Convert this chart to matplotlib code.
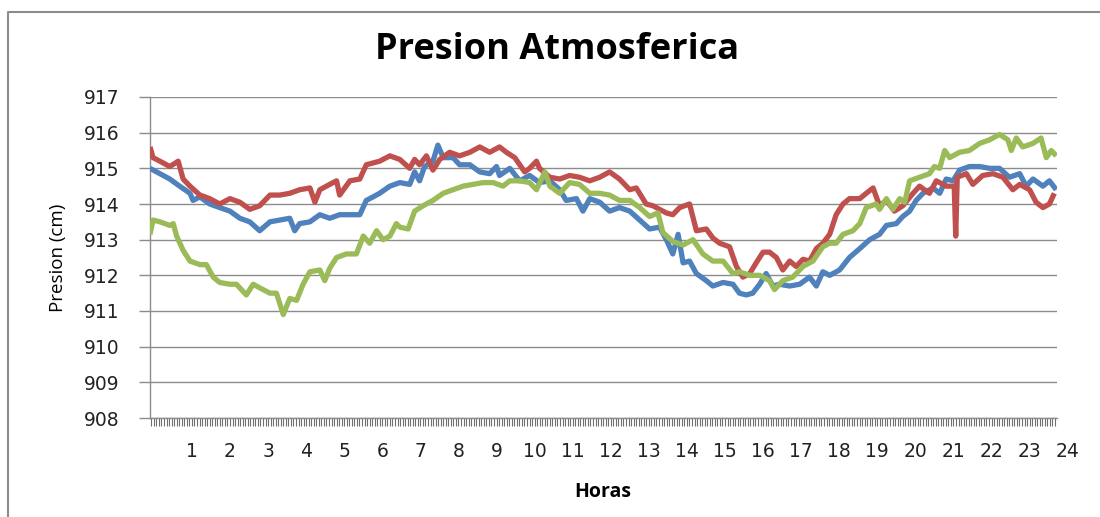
import numpy as np
import matplotlib
matplotlib.use("Agg")
import matplotlib.pyplot as plt
from matplotlib.lines import Line2D
from matplotlib.ticker import MultipleLocator
import matplotlib.transforms as mtransforms

title = "Presion Atmosferica"
y_label = "Presion (cm)"
x_label = "Horas"
hour_labels = list(range(1, 25))
y_ticks = list(range(908, 918))

blue_h = [-0.1, 0.16, 0.42, 0.68, 0.95, 1.03, 1.21, 1.47, 1.73, 2.0, 2.26, 2.52, 2.78, 3.05, 3.31,
          3.57, 3.70, 3.83, 4.10, 4.36, 4.62, 4.88, 5.15, 5.41, 5.58, 5.76, 5.93, 6.20,
          6.46, 6.72, 6.85, 6.98, 7.11, 7.33, 7.46, 7.60, 7.86, 8.03, 8.30, 8.56, 8.82, 9.00,
          9.08, 9.35, 9.61, 9.87, 10.13, 10.40, 10.66, 10.83, 11.10, 11.27, 11.45, 11.71, 11.97,
          12.23, 12.50, 12.76, 13.02,
          13.28, 13.46, 13.63, 13.77, 13.90, 14.07, 14.25, 14.51, 14.68, 14.95, 15.21, 15.38,
          15.56, 15.73, 15.91, 16.08, 16.26, 16.43, 16.70, 16.96, 17.22, 17.40, 17.57, 17.75,
          18.01, 18.27, 18.54, 18.80,
          19.06, 19.24, 19.50, 19.67, 19.85, 20.02, 20.20, 20.46, 20.64, 20.81, 20.99, 21.16,
          21.42, 21.69, 21.95, 22.21, 22.47, 22.74, 22.91, 23.09, 23.35, 23.52, 23.70]
blue_v = [915.0, 914.85, 914.7, 914.5, 914.3, 914.1, 914.2, 914.0, 913.9, 913.8, 913.6, 913.5, 913.25, 913.5, 913.55,
          913.6, 913.25, 913.45, 913.5, 913.7, 913.6, 913.7, 913.7, 913.7, 914.1, 914.2, 914.3, 914.5,
          914.6, 914.55, 914.9, 914.65, 915.05, 915.2, 915.65, 915.3, 915.3, 915.1, 915.1, 914.9, 914.85, 915.05,
          914.8, 915.0, 914.65, 914.8, 914.6, 914.65, 914.4, 914.1, 914.15, 913.8, 914.15, 914.05, 913.8,
          913.9, 913.8, 913.55, 913.3,
          913.35, 913.0, 912.6, 913.15, 912.35, 912.4, 912.05, 911.85, 911.7, 911.8, 911.75, 911.5,
          911.45, 911.5, 911.75, 912.05, 911.7, 911.75, 911.7, 911.75, 911.95, 911.7, 912.1, 912.0,
          912.15, 912.5, 912.75, 913.0,
          913.15, 913.4, 913.45, 913.65, 913.8, 914.1, 914.3, 914.45, 914.3, 914.7, 914.65, 914.95,
          915.05, 915.05, 915.0, 915.0, 914.75, 914.85, 914.5, 914.7, 914.5, 914.65, 914.4]

red_h = [-0.1, -0.02, 0.16, 0.42, 0.64, 0.77, 0.95, 1.21, 1.47, 1.73, 2.0, 2.26, 2.52, 2.78, 3.05,
         3.31, 3.57, 3.83, 4.10, 4.23, 4.36, 4.62, 4.80, 4.88, 5.15, 5.41, 5.58, 5.93, 6.20,
         6.46, 6.72, 6.85, 6.98, 7.16, 7.33, 7.51, 7.77, 8.03, 8.30, 8.56, 8.82, 9.08, 9.26, 9.48,
         9.61, 9.74, 9.87, 10.05, 10.13, 10.40, 10.66, 10.92, 11.18, 11.45, 11.71, 11.97, 12.23,
         12.50, 12.67, 12.93, 13.11,
         13.28, 13.46, 13.63, 13.81, 14.07, 14.25, 14.51, 14.68, 14.86, 15.12, 15.30, 15.47, 15.65,
         15.82, 16.00, 16.17, 16.35, 16.52, 16.70, 16.87, 17.05, 17.22, 17.40, 17.57, 17.75, 17.92,
         18.10, 18.27, 18.54, 18.71, 18.89,
         19.06, 19.24, 19.45, 19.67, 19.94, 20.11, 20.37, 20.55, 20.81, 21.02, 21.06, 21.10,
         21.34, 21.51, 21.77, 22.04, 22.30, 22.56, 22.74, 23.00, 23.17, 23.35, 23.52, 23.65]
red_v = [915.6, 915.3, 915.2, 915.05, 915.2, 914.7, 914.5, 914.25, 914.15, 914.0, 914.15, 914.05, 913.85, 913.95, 914.25,
         914.25, 914.3, 914.4, 914.45, 914.05, 914.4, 914.55, 914.65, 914.25, 914.65, 914.7, 915.1, 915.2, 915.35,
         915.25, 915.0, 915.25, 915.1, 915.35, 914.95, 915.25, 915.45, 915.35, 915.45, 915.6, 915.45, 915.6, 915.45, 915.3,
         915.1, 914.9, 915.0, 915.2, 915.0, 914.75, 914.7, 914.8, 914.75, 914.65, 914.75, 914.9, 914.7,
         914.4, 914.45, 914.0, 913.95,
         913.85, 913.75, 913.7, 913.9, 914.0, 913.25, 913.3, 913.05, 912.9, 912.8, 912.25, 911.95, 912.05,
         912.35, 912.65, 912.65, 912.5, 912.15, 912.4, 912.25, 912.45, 912.4, 912.75, 912.9, 913.15, 913.7,
         914.0, 914.15, 914.15, 914.3, 914.45,
         913.95, 914.1, 913.8, 913.95, 914.3, 914.5, 914.3, 914.65, 914.5, 914.5, 913.1, 914.75,
         914.85, 914.55, 914.8, 914.85, 914.75, 914.4, 914.55, 914.4, 914.05, 913.9, 914.0, 914.3]

green_h = [-0.1, -0.02, 0.16, 0.42, 0.51, 0.60, 0.77, 0.95, 1.21, 1.38, 1.56, 1.73, 2.0, 2.17, 2.43,
           2.61, 2.78, 3.05, 3.22, 3.40, 3.57, 3.75, 3.92, 4.10, 4.36, 4.49, 4.62, 4.80, 5.06, 5.32,
           5.50, 5.67, 5.85, 6.02, 6.20, 6.37,
           6.46, 6.68, 6.85, 7.07, 7.33, 7.60, 7.86, 8.12, 8.38, 8.65, 8.91, 9.17, 9.35, 9.61, 9.87,
           10.05, 10.27, 10.40, 10.66, 10.92, 11.18, 11.45, 11.71, 11.97, 12.23, 12.50, 12.76, 13.02,
           13.24,
           13.37, 13.63, 13.90, 14.16, 14.42, 14.68, 14.95, 15.21, 15.38, 15.65, 15.91, 16.17, 16.30,
           16.52, 16.78, 17.05, 17.31, 17.57, 17.75, 17.92, 18.10, 18.36, 18.54, 18.71, 18.97,
           19.06, 19.24, 19.41, 19.59, 19.72, 19.85, 20.11, 20.37, 20.50, 20.64, 20.77, 20.90, 21.16,
           21.42, 21.69, 21.95, 22.21, 22.43, 22.52, 22.65, 22.82, 23.09, 23.30, 23.44, 23.57, 23.70]
green_v = [913.15, 913.55, 913.5, 913.4, 913.45, 913.1, 912.7, 912.4, 912.3, 912.3, 911.95, 911.8, 911.75, 911.75, 911.45,
           911.75, 911.65, 911.5, 911.5, 910.9, 911.35, 911.3, 911.75, 912.1, 912.15, 911.85, 912.2, 912.5, 912.6, 912.6,
           913.1, 912.9, 913.25, 913.0, 913.1, 913.45,
           913.35, 913.3, 913.8, 913.95, 914.1, 914.3, 914.4, 914.5, 914.55, 914.6, 914.6, 914.5, 914.65, 914.65, 914.6,
           914.4, 914.9, 914.5, 914.3, 914.6, 914.55, 914.3, 914.3, 914.25, 914.1, 914.1, 913.9, 913.65,
           913.75,
           913.2, 912.95, 912.85, 913.0, 912.6, 912.4, 912.4, 912.05, 912.1, 912.0, 912.0, 911.85, 911.6,
           911.85, 911.95, 912.25, 912.4, 912.8, 912.9, 912.9, 913.15, 913.25, 913.45, 913.9, 914.0,
           913.85, 914.15, 913.85, 914.15, 914.05, 914.65, 914.75, 914.85, 915.05, 915.0, 915.5, 915.3, 915.45,
           915.5, 915.7, 915.8, 915.95, 915.8, 915.5, 915.85, 915.6, 915.7, 915.85, 915.3, 915.5, 915.35]

colors = ["#4F81BD", "#C0504D", "#9BBB59"]

fig = plt.figure(figsize=(11, 5.17), dpi=100)
ax = fig.add_axes([150 / 1100, 99 / 517, 907 / 1100, 321 / 517])

for (h, v), c, z in zip([(blue_h, blue_v), (red_h, red_v), (green_h, green_v)], colors, [3, 4, 5]):
    ax.plot(h, v, color=c, lw=3.8, zorder=z, solid_joinstyle="round", solid_capstyle="butt")

ax.set_xlim(-0.1, 23.72)
ax.set_ylim(908, 917)
ax.set_yticks(y_ticks)
ax.set_yticklabels([str(t) for t in y_ticks], fontsize=13.5, color="#222222")
ax.yaxis.grid(True, color="#8c8c8c", lw=1.0)
ax.set_axisbelow(True)
ax.tick_params(axis="y", length=8, width=1, color="#8c8c8c", pad=14)

ax.set_xticks([])
ax.xaxis.set_minor_locator(MultipleLocator(1 / 15))
ax.tick_params(axis="x", which="minor", length=6, width=0.8, color="#707070", direction="out")

for s in ["top", "right"]:
    ax.spines[s].set_visible(False)
for s in ["left", "bottom"]:
    ax.spines[s].set_color("#8c8c8c")
    ax.spines[s].set_linewidth(1.0)

trans = mtransforms.blended_transform_factory(ax.transData, ax.transAxes)
for h in hour_labels:
    ax.text(h, -0.103, str(h), transform=trans, ha="center", va="center",
            fontsize=13.5, color="#222222", clip_on=False)

fig.text(557 / 1100, 1 - 50 / 517, title, ha="center", va="center",
         fontsize=26, fontweight="bold", family="Open Sans")
fig.text(58 / 1100, 1 - 258 / 517, y_label, ha="center", va="center", rotation=90,
         fontsize=13.5, family="Open Sans")
fig.text(603 / 1100, 1 - 492 / 517, x_label, ha="center", va="center",
         fontsize=14, fontweight="bold", family="Open Sans")

fig.add_artist(Line2D([8 / 1100, 8 / 1100, 1.0], [0.0, 1 - 12 / 517, 1 - 12 / 517],
                      transform=fig.transFigure, color="#8c8c8c", lw=1.5))

fig.savefig("out.png", dpi=100)
